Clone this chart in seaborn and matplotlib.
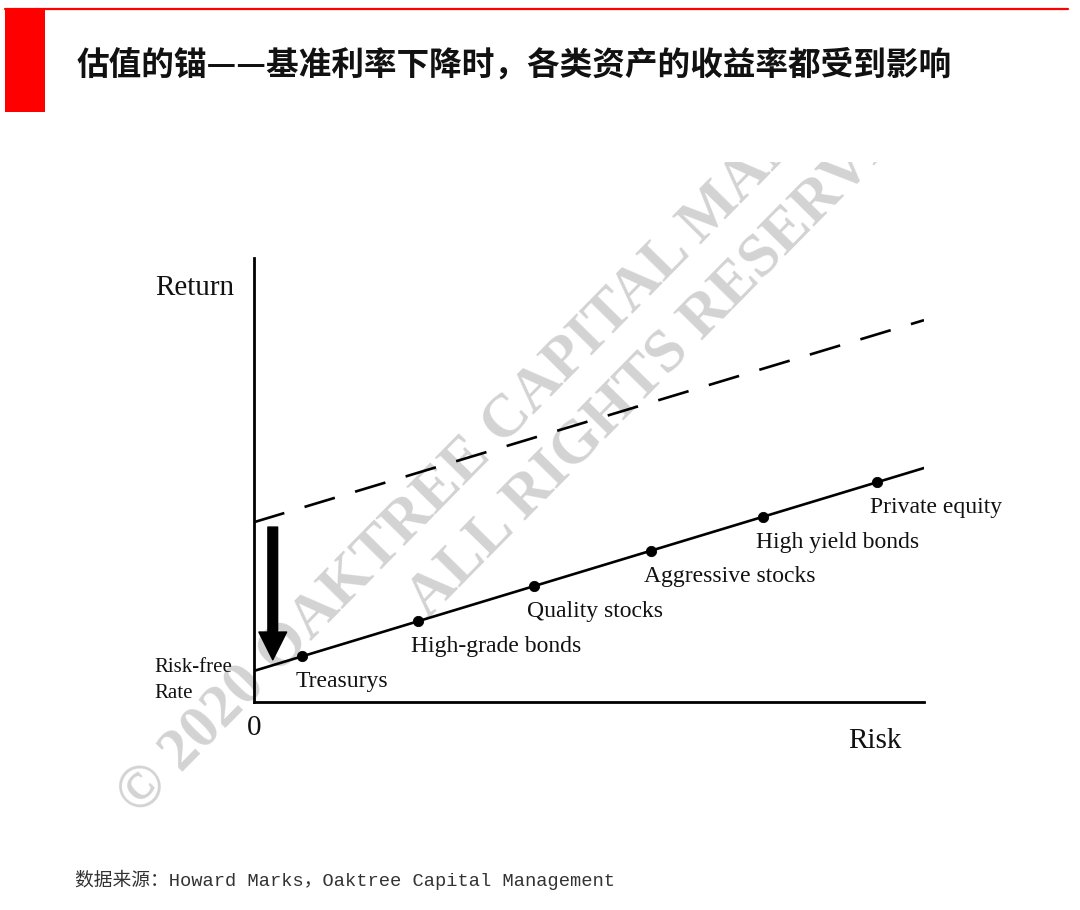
import numpy as np
import matplotlib
matplotlib.use("Agg")
import matplotlib.pyplot as plt
import seaborn as sns
import pandas as pd
from matplotlib.patches import Rectangle
from matplotlib.transforms import Bbox, TransformedBbox

# Datos (escala arbitraria 0-10)
assets = ["Treasurys", "High-grade bonds", "Quality stocks",
          "Aggressive stocks", "High yield bonds", "Private equity"]
risk = [0.72, 2.45, 4.18, 5.93, 7.60, 9.30]
ret = [1.04, 1.82, 2.61, 3.40, 4.17, 4.95]

line_risk = [0, 10]
line_now = [0.70, 5.27]      # recta actual (tipo libre de riesgo bajo)
line_before = [4.05, 8.60]   # recta anterior (discontinua)

title = "估值的锚——基准利率下降时，各类资产的收益率都受到影响"
source = "数据来源：Howard Marks，Oaktree Capital Management"

sns.set_theme(style="white")
W, H = 1080, 910
fig = plt.figure(figsize=(W / 100, H / 100), dpi=100)

def fx(px):
    return px / W

def fy(py):
    return 1 - py / H

# cabecera roja
fig.add_artist(Rectangle((fx(5), fy(112)), fx(40), (112 - 9) / H,
                         transform=fig.transFigure, color="#ff0000", lw=0))
fig.add_artist(plt.Line2D([fx(5), fx(1068)], [fy(9), fy(9)],
                          transform=fig.transFigure, color="#ff0000", lw=1.6))
fig.text(fx(77), fy(65), title, family=["Noto Sans CJK SC", "DejaVu Sans"],
         fontsize=23.5, weight="bold", color="#111111", va="center", ha="left")

ax = fig.add_axes([fx(254), fy(702), (924 - 254) / W, (702 - 258) / H])
ax.patch.set_alpha(0)

df_lines = pd.DataFrame({"Risk": line_risk * 2,
                         "Return": line_now + line_before,
                         "serie": ["now"] * 2 + ["before"] * 2})
sns.lineplot(data=df_lines[df_lines.serie == "now"], x="Risk", y="Return",
             color="black", lw=1.9, ax=ax)
sns.lineplot(data=df_lines[df_lines.serie == "before"], x="Risk", y="Return",
             color="black", lw=1.9, ax=ax, dashes=False)
ax.lines[-1].set_dashes((12, 8))

df = pd.DataFrame({"asset": assets, "risk": risk, "ret": ret})
sns.scatterplot(data=df, x="risk", y="ret", color="black", s=55,
                edgecolor="black", ax=ax, zorder=5)

for name, x, y in zip(assets, risk, ret):
    ax.annotate(name, (x, y), xytext=(-5, -18.5), textcoords="offset points",
                family="Liberation Serif", fontsize=17, ha="left", va="center",
                color="#111111")

# flecha de caída del tipo libre de riesgo
ax.annotate("", xy=(0.28, 0.95), xytext=(0.28, 3.94),
            arrowprops=dict(width=7, headwidth=20, headlength=20,
                            color="black", shrink=0))

ax.set_xlim(0, 10)
ax.set_ylim(0, 10)
ax.set_xticks([])
ax.set_yticks([])
ax.set_xlabel("")
ax.set_ylabel("")
for side in ["top", "right"]:
    ax.spines[side].set_visible(False)
for side in ["left", "bottom"]:
    ax.spines[side].set_color("black")
    ax.spines[side].set_linewidth(2)

serif = dict(family="Liberation Serif", color="#111111", clip_on=False)
ax.text(-1.48, 9.32, "Return", fontsize=21, ha="left", va="center", **serif)
ax.text(8.87, -0.88, "Risk", fontsize=21, ha="left", va="center", **serif)
ax.text(0, -0.59, "0", fontsize=21, ha="center", va="center", **serif)
ax.text(-1.48, 0.77, "Risk-free", fontsize=15, ha="left", va="center", **serif)
ax.text(-1.48, 0.20, "Rate", fontsize=15, ha="left", va="center", **serif)

# marca de agua (recortada arriba como en la imagen original)
clip = TransformedBbox(Bbox([[0, fy(840)], [1, fy(162)]]), fig.transFigure)
for txt, px, py in [("© 2020 OAKTREE CAPITAL MANAGEMENT, L.P.", 127, 806),
                    ("ALL RIGHTS RESERVED.", 418, 609)]:
    t = fig.text(fx(px), fy(py), txt, family="Liberation Serif", weight="bold",
                 fontsize=44, color="#d3d3d3", rotation=45.5,
                 rotation_mode="anchor", ha="left", va="center", zorder=-1)
    t.set_clip_box(clip)
    t.set_clip_on(True)

fig.text(fx(75), fy(880), source, family=["Liberation Mono", "Noto Sans CJK SC"],
         fontsize=13.5, color="#333333", ha="left", va="center")

fig.savefig("out.png", dpi=100, facecolor="white")
